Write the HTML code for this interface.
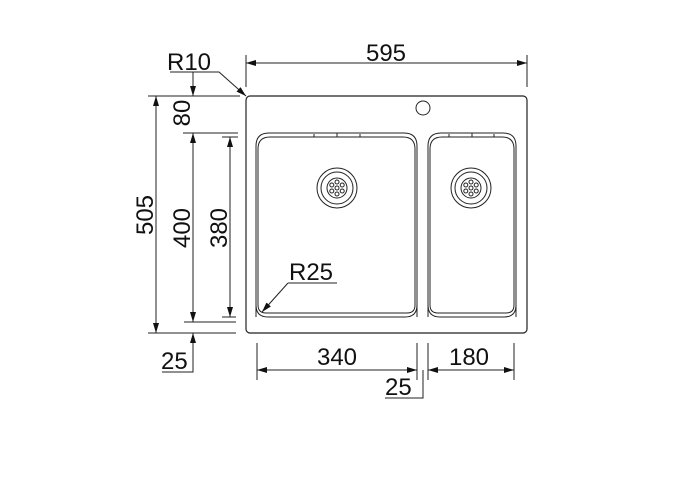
<!DOCTYPE html>
<html><head><style>html,body{margin:0;padding:0;background:#fff}svg{display:block}</style></head>
<body>
<svg width="683" height="477" viewBox="0 0 683 477" xmlns="http://www.w3.org/2000/svg" font-family="Liberation Sans, sans-serif" fill="none" stroke="#222" stroke-width="1">
<defs>
<marker id="a" viewBox="0 0 10 6" refX="10" refY="3" markerWidth="14" markerHeight="6" markerUnits="userSpaceOnUse" orient="auto-start-reverse"><path d="M0,0L10,3L0,6z" fill="#111" stroke="none"/></marker>
</defs>
<rect x="246" y="96" width="281" height="237" rx="4" stroke-width="1.2"/>
<circle cx="423" cy="108" r="7"/>
<path d="M256,317 V146 Q256,133 269,133 H404 Q417,133 417,146 V317"/>
<path d="M258,305 V149 Q258,137 270,137 H403 Q415,137 415,149 V305 Q415,313 407,313 H266 Q258,313 258,305 Z"/>
<path d="M256,305 Q256,317 268,317 H405 Q417,317 417,305"/>
<path d="M314,137 v-3 M337,137 v-4 M360,137 v-3" />
<path d="M428,317 V146 Q428,133 441,133 H503 Q516,133 516,146 V317"/>
<path d="M430,305 V149 Q430,137 442,137 H502 Q514,137 514,149 V305 Q514,313 506,313 H438 Q430,313 430,305 Z"/>
<path d="M428,305 Q428,317 440,317 H504 Q516,317 516,305"/>
<path d="M449,137 v-3 M472,137 v-4 M494,137 v-3"/>
<g>
<circle cx="337" cy="188" r="20"/><circle cx="337" cy="188" r="16"/><circle cx="337" cy="188" r="10"/>
<circle cx="337" cy="188" r="2"/>
<circle cx="337" cy="182" r="2"/><circle cx="337" cy="194" r="2"/><circle cx="331.8" cy="185" r="2"/><circle cx="342.2" cy="185" r="2"/><circle cx="331.8" cy="191" r="2"/><circle cx="342.2" cy="191" r="2"/>
<circle cx="471" cy="188" r="20"/><circle cx="471" cy="188" r="16"/><circle cx="471" cy="188" r="10"/>
<circle cx="471" cy="188" r="2"/>
<circle cx="471" cy="182" r="2"/><circle cx="471" cy="194" r="2"/><circle cx="465.8" cy="185" r="2"/><circle cx="476.2" cy="185" r="2"/><circle cx="465.8" cy="191" r="2"/><circle cx="476.2" cy="191" r="2"/>
</g>
<line x1="246" y1="55" x2="246" y2="87"/>
<line x1="527" y1="55" x2="527" y2="87"/>
<line x1="246" y1="63" x2="527" y2="63" marker-start="url(#a)" marker-end="url(#a)"/>
<path d="M170,72 H219 L246,96" marker-end="url(#a)"/>
<line x1="148" y1="96" x2="240" y2="96"/>
<line x1="148" y1="333" x2="236" y2="333"/>
<line x1="183" y1="133" x2="238" y2="133"/>
<line x1="184" y1="322" x2="236" y2="322"/>
<line x1="222" y1="137" x2="238" y2="137"/>
<line x1="222" y1="317" x2="236" y2="317"/>
<line x1="156" y1="96" x2="156" y2="333" marker-start="url(#a)" marker-end="url(#a)"/>
<line x1="193" y1="72" x2="193" y2="96" marker-end="url(#a)"/>
<line x1="193" y1="133" x2="193" y2="322" marker-start="url(#a)" marker-end="url(#a)"/>
<path d="M162,372 H193 V333" marker-end="url(#a)"/>
<line x1="230" y1="137" x2="230" y2="317" marker-start="url(#a)" marker-end="url(#a)"/>
<line x1="257" y1="343" x2="257" y2="380"/>
<line x1="417" y1="343" x2="417" y2="380"/>
<line x1="428" y1="343" x2="428" y2="380"/>
<line x1="514" y1="343" x2="514" y2="380"/>
<line x1="257" y1="370" x2="417" y2="370" marker-start="url(#a)" marker-end="url(#a)"/>
<line x1="428" y1="370" x2="514" y2="370" marker-start="url(#a)" marker-end="url(#a)"/>
<path d="M385,398 H423 V370"/>
<g fill="#111" stroke="none" font-size="24">
<text x="386" y="61" text-anchor="middle">595</text>
<text x="167" y="70">R10</text>
<text x="289" y="280">R25</text>
<text x="337" y="365" text-anchor="middle">340</text>
<text x="469" y="365" text-anchor="middle">180</text>
<text x="385" y="395">25</text>
<text x="161" y="369">25</text>
<text transform="translate(153,215) rotate(-90)" text-anchor="middle">505</text>
<text transform="translate(190,113) rotate(-90)" text-anchor="middle">80</text>
<text transform="translate(190,228) rotate(-90)" text-anchor="middle">400</text>
<text transform="translate(227,228) rotate(-90)" text-anchor="middle">380</text>
</g>
<path d="M288,283 H337 M288,283 L262,312" marker-end="url(#a)"/>
</svg>
</body></html>
